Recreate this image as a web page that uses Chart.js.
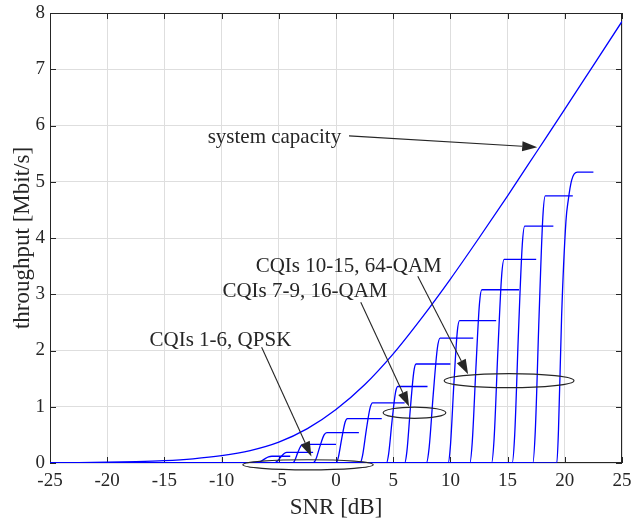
<!DOCTYPE html>
<html><head><meta charset="utf-8">
<script src="https://cdn.jsdelivr.net/npm/chart.js@4/dist/chart.umd.min.js"></script>
<style>html,body{margin:0;padding:0;background:#fff}</style>
</head><body>
<canvas id="c" width="632" height="523"></canvas>
<script>
// ---- data ----
const xTicks = [-25,-20,-15,-10,-5,0,5,10,15,20,25];
const yTicks = [0,1,2,3,4,5,6,7,8];

const capSnr  = [-25,-22.5,-20,-17.5,-15,-12.5,-10,-7.5,-5,-2.5,0,2.5,5,7.5,10,12.5,15,17.5,20,22.5,25];
const capTput = [0.004,0.008,0.014,0.024,0.042,0.075,0.13,0.22,0.37,0.61,0.95,1.39,1.94,2.58,3.27,4.0,4.75,5.52,6.29,7.07,7.85];

// CQI throughput curves: [SNR dB, throughput Mbit/s]
const cqi01 = [[-25,0],[-7.0,0],[-6.7,0.015],[-6.3,0.065],[-5.9,0.11],[-5.6,0.12],[-4.0,0.12]];
const cqi02 = [[-25,0],[-5.4,0],[-5.2,0.02],[-4.85,0.10],[-4.5,0.175],[-4.3,0.19],[-2.0,0.19]];
const cqi03 = [[-25,0],[-3.8,0],[-3.62,0.04],[-3.35,0.18],[-3.08,0.30],[-2.9,0.33],[0.0,0.33]];
const cqi04 = [[-25,0],[-2.0,0],[-1.76,0.065],[-1.4,0.30],[-1.04,0.50],[-0.8,0.54],[2.0,0.54]];
const cqi05 = [[-25,0],[0.0,0],[0.2,0.095],[0.5,0.435],[0.8,0.73],[1.0,0.79],[4.0,0.79]];
const cqi06 = [[-25,0],[2.1,0],[2.32,0.13],[2.65,0.59],[2.98,0.98],[3.2,1.07],[6.0,1.07]];
const cqi07 = [[-25,0],[4.4,0],[4.6,0.16],[4.9,0.75],[5.2,1.25],[5.4,1.36],[8.0,1.36]];
const cqi08 = [[-25,0],[6.0,0],[6.2,0.21],[6.5,0.97],[6.8,1.62],[7.0,1.76],[10.0,1.76]];
const cqi09 = [[-25,0],[7.9,0],[8.14,0.27],[8.5,1.22],[8.86,2.04],[9.1,2.22],[12.0,2.22]];
const cqi10 = [[-25,0],[9.8,0],[10.0,0.30],[10.3,1.39],[10.6,2.33],[10.8,2.53],[14.0,2.53]];
const cqi11 = [[-25,0],[11.7,0],[11.91,0.37],[12.23,1.69],[12.54,2.83],[12.75,3.08],[16.0,3.08]];
const cqi12 = [[-25,0],[13.6,0],[13.82,0.43],[14.15,1.99],[14.48,3.33],[14.7,3.62],[17.5,3.62]];
const cqi13 = [[-25,0],[15.4,0],[15.62,0.50],[15.95,2.32],[16.28,3.87],[16.5,4.21],[19.0,4.21]];
const cqi14 = [[-25,0],[17.2,0],[17.42,0.57],[17.75,2.61],[18.08,4.37],[18.3,4.75],[20.7,4.75]];
const cqi15 = [[-25,0],[19.3,0],[19.45,0.6],[19.72,2.6],[20.1,4.3],[20.3,4.67],[20.6,5.03],[21.1,5.17],[22.5,5.17]];
const cqiCurves = [cqi01,cqi02,cqi03,cqi04,cqi05,cqi06,cqi07,cqi08,cqi09,cqi10,cqi11,cqi12,cqi13,cqi14,cqi15];

// annotations (data coordinates)
const annotTexts = ['system capacity','CQIs 10-15, 64-QAM','CQIs 7-9, 16-QAM','CQIs 1-6, QPSK'];
const annotTextX = [-11.22,-7.02,-9.93,-16.3];
const annotTextY = [5.69,3.40,2.956,2.084];
const arrowFrom = [[1.14,5.815],[7.15,3.32],[2.165,2.858],[-6.50,2.057]];
const arrowTo   = [[17.59,5.614],[11.55,1.576],[6.39,1.006],[-2.15,0.116]];
const ellipseCenter = [[15.13,1.464],[6.86,0.894],[-2.445,-0.032]];
const ellipseRadius = [[5.67,0.125],[2.74,0.10],[5.69,0.09]];

// ---- chart ----
const INK = '#262626';
const SERIF = '"Liberation Serif", "Times New Roman", serif';

const datasets = [{
  data: capSnr.map((s,i)=>({x:s,y:capTput[i]})),
  borderColor:'#0000ff', borderWidth:1.3, pointRadius:0, cubicInterpolationMode:'monotone', fill:false
}].concat(cqiCurves.map(c=>({
  data: c.map(p=>({x:p[0],y:p[1]})),
  borderColor:'#0000ff', borderWidth:1.3, pointRadius:0, cubicInterpolationMode:'monotone', fill:false
})));

const framePlugin = {
  id:'frame',
  beforeDatasetsDraw(chart){
    const {ctx, chartArea:a, scales:{x,y}} = chart;
    ctx.save();
    ctx.strokeStyle = INK; ctx.lineWidth = 1;
    ctx.strokeRect(a.left+0.5, a.top+0.5, a.right-a.left-1, a.bottom-a.top-1);
    ctx.beginPath();
    const tl = 6;
    xTicks.forEach(v=>{
      const px = Math.round(x.getPixelForValue(v))+0.5;
      ctx.moveTo(px, a.bottom); ctx.lineTo(px, a.bottom-tl);
      ctx.moveTo(px, a.top); ctx.lineTo(px, a.top+tl);
    });
    yTicks.forEach(v=>{
      const py = Math.round(y.getPixelForValue(v))+0.5;
      ctx.moveTo(a.left, py); ctx.lineTo(a.left+tl, py);
      ctx.moveTo(a.right, py); ctx.lineTo(a.right-tl, py);
    });
    ctx.stroke();
    ctx.restore();
  },
  afterDatasetsDraw(chart){
    const {ctx, scales:{x,y}} = chart;
    ctx.save();
    ctx.strokeStyle = INK; ctx.fillStyle = INK; ctx.lineWidth = 1.2;
    // ellipses
    ellipseCenter.forEach((c,i)=>{
      const cx = x.getPixelForValue(c[0]), cy = y.getPixelForValue(c[1]);
      const rx = Math.abs(x.getPixelForValue(c[0]+ellipseRadius[i][0]) - cx);
      const ry = Math.abs(y.getPixelForValue(c[1]+ellipseRadius[i][1]) - cy);
      ctx.beginPath(); ctx.ellipse(cx, cy, rx, ry, 0, 0, Math.PI*2); ctx.stroke();
    });
    // arrows
    ctx.lineWidth = 1.1;
    arrowFrom.forEach((f,i)=>{
      const x0 = x.getPixelForValue(f[0]), y0 = y.getPixelForValue(f[1]);
      const x1 = x.getPixelForValue(arrowTo[i][0]), y1 = y.getPixelForValue(arrowTo[i][1]);
      const L = Math.hypot(x1-x0, y1-y0), ux = (x1-x0)/L, uy = (y1-y0)/L;
      const hl = 15, hw = 5;
      const bx = x1-ux*hl, by = y1-uy*hl;
      ctx.beginPath(); ctx.moveTo(x0,y0); ctx.lineTo(bx,by); ctx.stroke();
      ctx.beginPath(); ctx.moveTo(x1,y1);
      ctx.lineTo(bx - uy*hw, by + ux*hw);
      ctx.lineTo(bx + uy*hw, by - ux*hw);
      ctx.closePath(); ctx.fill();
    });
    // texts
    ctx.font = '21px ' + SERIF;
    ctx.textAlign = 'left'; ctx.textBaseline = 'alphabetic';
    annotTexts.forEach((t,i)=>{
      ctx.fillText(t, x.getPixelForValue(annotTextX[i]), y.getPixelForValue(annotTextY[i]));
    });
    ctx.restore();
  }
};

new Chart(document.getElementById('c'), {
  type:'line',
  data:{datasets},
  options:{
    responsive:false, animation:false, devicePixelRatio:1,
    layout:{padding:{left:0,right:10,top:13,bottom:0}},
    plugins:{legend:{display:false}, tooltip:{enabled:false}},
    scales:{
      x:{
        type:'linear', min:-25, max:25,
        afterBuildTicks:s=>{ s.ticks = xTicks.map(v=>({value:v})); },
        afterFit:s=>{ s.height = 60; s.paddingLeft = 0; s.paddingRight = 0; },
        grid:{color:'#dedede', lineWidth:1, drawTicks:false},
        border:{display:false},
        ticks:{color:INK, font:{family:SERIF, size:19}, padding:7, maxRotation:0, autoSkip:false},
        title:{display:true, text:'SNR [dB]', color:INK, font:{family:SERIF, size:23}, padding:{top:0,bottom:1}}
      },
      y:{
        type:'linear', min:0, max:8,
        afterBuildTicks:s=>{ s.ticks = yTicks.map(v=>({value:v})); },
        afterFit:s=>{ s.width = 50; s.paddingTop = 0; s.paddingBottom = 0; },
        grid:{color:'#dedede', lineWidth:1, drawTicks:false},
        border:{display:false},
        ticks:{color:INK, font:{family:SERIF, size:19}, padding:5, autoSkip:false},
        title:{display:true, text:'throughput [Mbit/s]', color:INK, font:{family:SERIF, size:23}, padding:{top:9,bottom:0}}
      }
    }
  },
  plugins:[framePlugin]
});
</script>
</body></html>
